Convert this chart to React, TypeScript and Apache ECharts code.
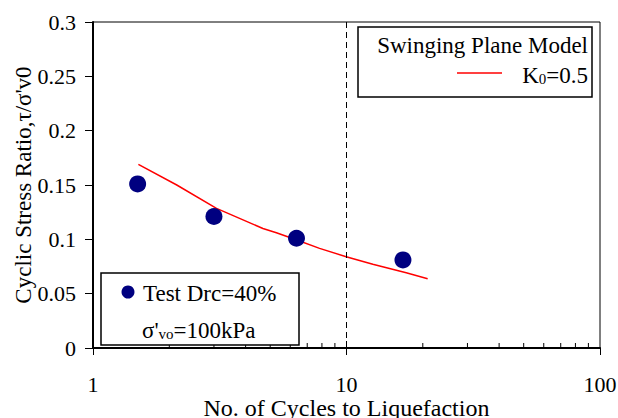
import React, { useEffect, useRef } from "react";
import * as echarts from "echarts";

const testCycles = [1.5, 3.0, 6.35, 16.7];
const testRatios = [0.151, 0.121, 0.101, 0.081];

const modelCycles = [1.51, 2.14, 3.07, 4.68, 5.29, 6.37, 7.83, 9.97, 12.7, 17.2, 20.9];
const modelRatios = [0.169, 0.150, 0.1285, 0.110, 0.106, 0.0994, 0.0917, 0.084, 0.077, 0.0693, 0.0638];

const minorTicks = [2, 3, 4, 5, 6, 7, 8, 9, 10, 20, 30, 40, 50, 60, 70, 80, 90];
const criticalCycles = 10;

const FONT = "Liberation Serif";

export default function App() {
  const ref = useRef<HTMLDivElement>(null);
  useEffect(() => {
    if (!ref.current) return;
    const chart = echarts.init(ref.current, null, { renderer: "svg" });
    const txt = { fontFamily: FONT, fontSize: 23, fill: "#000" };
    const richMain = { fontFamily: FONT, fontSize: 23, fill: "#000", lineHeight: 26 };
    const richSub = { fontFamily: FONT, fontSize: 15, fill: "#000", lineHeight: 26, padding: [8, 0, 0, 0] };
    chart.setOption({
      animation: false,
      backgroundColor: "#fff",
      textStyle: { fontFamily: FONT },
      grid: {
        left: 93, right: 18, top: 22, bottom: 70,
        show: true, borderColor: "#000", borderWidth: 1,
        outerBoundsMode: "none", containLabel: false,
      },
      xAxis: {
        type: "log",
        logBase: 10,
        min: 1,
        max: 100,
        name: "No. of Cycles to Liquefaction",
        nameLocation: "middle",
        nameGap: 48,
        nameMoveOverlap: false,
        nameTextStyle: { fontFamily: FONT, fontSize: 24, color: "#000" },
        axisLine: { lineStyle: { color: "#000", width: 2 } },
        axisTick: { show: true, inside: false, length: 7, lineStyle: { color: "#000" } },
        axisLabel: { fontFamily: FONT, fontSize: 22, color: "#000", margin: 25 },
        splitLine: { show: false },
      },
      yAxis: {
        type: "value",
        min: 0,
        max: 0.3,
        interval: 0.05,
        name: "Cyclic Stress Ratio,\u03c4/\u03c3'v0",
        nameLocation: "middle",
        nameGap: 58,
        nameMoveOverlap: false,
        nameTextStyle: { fontFamily: FONT, fontSize: 23, color: "#000" },
        axisLine: { show: true, lineStyle: { color: "#000", width: 2 } },
        axisTick: { show: true, inside: false, length: 8, lineStyle: { color: "#000" } },
        axisLabel: { fontFamily: FONT, fontSize: 22, color: "#000", margin: 17 },
        splitLine: { show: false },
      },
      series: [
        {
          type: "custom",
          silent: true,
          data: minorTicks.map((v) => [v, 0]),
          renderItem: (params: any, api: any) => {
            const p = api.coord([api.value(0), 0]);
            const len = api.value(0) === 10 ? 7 : 5;
            return {
              type: "line",
              shape: { x1: p[0], y1: p[1], x2: p[0], y2: p[1] - len },
              style: { stroke: "#000", lineWidth: 1 },
            };
          },
          z: 5,
        },
        {
          name: "K0=0.5",
          type: "line",
          data: modelCycles.map((c, i) => [c, modelRatios[i]]),
          showSymbol: false,
          symbol: "none",
          lineStyle: { color: "#ff0000", width: 1.5 },
          markLine: {
            silent: true,
            symbol: "none",
            label: { show: false },
            lineStyle: { color: "#000", width: 1, type: [6, 4] },
            data: [{ xAxis: criticalCycles }],
          },
          z: 3,
        },
        {
          name: "Test Drc=40%",
          type: "scatter",
          data: testCycles.map((c, i) => [c, testRatios[i]]),
          symbol: "circle",
          symbolSize: 17,
          itemStyle: { color: "#000080", opacity: 1 },
          z: 4,
        },
      ],
      graphic: [
        {
          type: "rect",
          shape: { x: 358, y: 27, width: 234, height: 70 },
          style: { fill: "#fff", stroke: "#000", lineWidth: 1.5 },
          z: 10,
        },
        {
          type: "text",
          x: 588,
          y: 45,
          style: { ...txt, text: "Swinging Plane Model", align: "right", verticalAlign: "middle" },
          z: 11,
        },
        {
          type: "line",
          shape: { x1: 457, y1: 73, x2: 502, y2: 73 },
          style: { stroke: "#ff0000", lineWidth: 1.5 },
          z: 11,
        },
        {
          type: "text",
          x: 588,
          y: 75,
          style: {
            ...txt,
            text: "{a|K}{s|0}{a|=0.5}",
            align: "right",
            verticalAlign: "middle",
            rich: { a: richMain, s: richSub },
          },
          z: 11,
        },
        {
          type: "rect",
          shape: { x: 101, y: 273, width: 198, height: 72 },
          style: { fill: "#fff", stroke: "#000", lineWidth: 1.5 },
          z: 10,
        },
        {
          type: "circle",
          shape: { cx: 128, cy: 292, r: 6.5 },
          style: { fill: "#000080" },
          z: 11,
        },
        {
          type: "text",
          x: 143,
          y: 293,
          style: { ...txt, text: "Test Drc=40%", align: "left", verticalAlign: "middle" },
          z: 11,
        },
        {
          type: "text",
          x: 142,
          y: 330,
          style: {
            ...txt,
            text: "{a|\u03c3'}{s|vo}{a|=100kPa}",
            align: "left",
            verticalAlign: "middle",
            rich: { a: richMain, s: richSub },
          },
          z: 11,
        },
      ],
    });
    return () => chart.dispose();
  }, []);
  return <div ref={ref} style={{ width: 618, height: 418, position: "absolute", left: 0, top: 0 }} />;
}
